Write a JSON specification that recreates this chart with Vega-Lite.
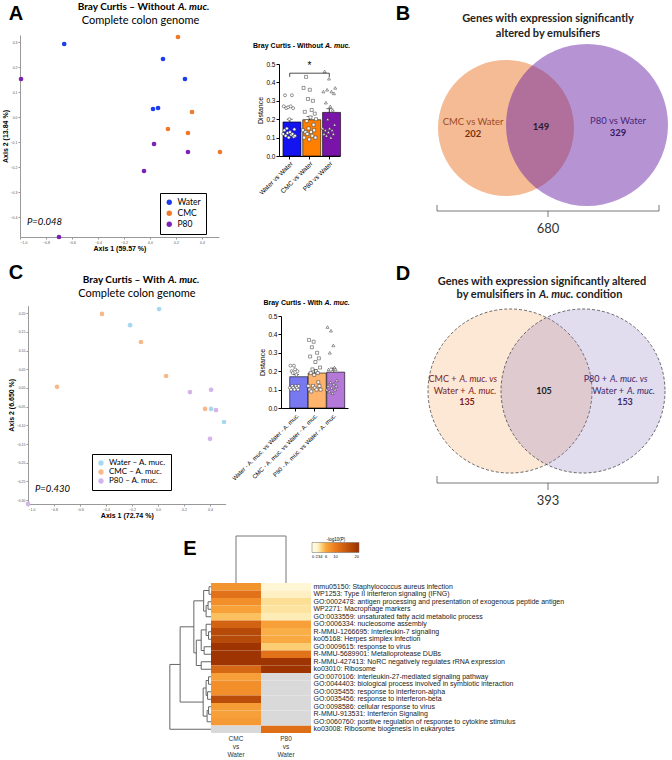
{
"$schema":"https://vega.github.io/schema/vega-lite/v6.json",
"width":672,"height":760,"autosize":{"type":"none"},"padding":0,"background":"white",
"config":{"view":{"stroke":null},"axis":{"grid":false,"labelFont":"Liberation Sans","titleFont":"Liberation Sans"},"legend":{"labelFont":"Lato"},"text":{"font":"Lato"}},
"datasets":{
"scatterA":[
{"group":"Water","axis1":-0.66,"axis2":0.292},{"group":"Water","axis1":0.1,"axis2":0.232},{"group":"Water","axis1":0.269,"axis2":0.152},{"group":"Water","axis1":0.023,"axis2":0.032},{"group":"Water","axis1":0.062,"axis2":0.036},
{"group":"CMC","axis1":0.215,"axis2":0.32},{"group":"CMC","axis1":0.323,"axis2":0.02},{"group":"CMC","axis1":0.138,"axis2":-0.048},{"group":"CMC","axis1":0.292,"axis2":-0.064},{"group":"CMC","axis1":0.538,"axis2":-0.14},
{"group":"P80","axis1":-0.992,"axis2":0.152},{"group":"P80","axis1":0.031,"axis2":-0.108},{"group":"P80","axis1":0.292,"axis2":-0.14},{"group":"P80","axis1":-0.046,"axis2":-0.216},{"group":"P80","axis1":-0.7,"axis2":-0.48}],
"scatterC":[
{"group":"Water – A. muc.","axis1":0.008,"axis2":0.211},{"group":"Water – A. muc.","axis1":-0.215,"axis2":0.168},{"group":"Water – A. muc.","axis1":0.408,"axis2":-0.056},{"group":"Water – A. muc.","axis1":0.508,"axis2":-0.091},
{"group":"CMC – A. muc.","axis1":-0.431,"axis2":0.198},{"group":"CMC – A. muc.","axis1":-0.131,"axis2":0.123},{"group":"CMC – A. muc.","axis1":0.062,"axis2":0.032},{"group":"CMC – A. muc.","axis1":-0.777,"axis2":0.003},{"group":"CMC – A. muc.","axis1":0.362,"axis2":-0.056},
{"group":"P80 – A. muc.","axis1":0.246,"axis2":-0.011},{"group":"P80 – A. muc.","axis1":0.408,"axis2":-0.005},{"group":"P80 – A. muc.","axis1":0.446,"axis2":-0.059},{"group":"P80 – A. muc.","axis1":0.4,"axis2":-0.136},{"group":"P80 – A. muc.","axis1":-1.0,"axis2":-0.31}],
"barA":[{"cmp":"Water vs Water","mean":0.185,"upper":0.2},{"cmp":"CMC vs Water","mean":0.197,"upper":0.214},{"cmp":"P80 vs Water","mean":0.237,"upper":0.257}],
"barC":[{"cmp":"Water - A. muc. vs Water - A. muc.","mean":0.17,"upper":0.182},{"cmp":"CMC - A. muc. vs Water - A. muc.","mean":0.19,"upper":0.208},{"cmp":"P80 - A. muc. vs Water - A. muc.","mean":0.195,"upper":0.217}],
"ptsA":[
{"cmp":"Water vs Water","rep":1,"d":0.12},{"cmp":"Water vs Water","rep":2,"d":0.27},{"cmp":"Water vs Water","rep":3,"d":0.14},{"cmp":"Water vs Water","rep":4,"d":0.33},{"cmp":"Water vs Water","rep":5,"d":0.11},{"cmp":"Water vs Water","rep":6,"d":0.26},{"cmp":"Water vs Water","rep":7,"d":0.15},{"cmp":"Water vs Water","rep":8,"d":0.125},{"cmp":"Water vs Water","rep":9,"d":0.265},{"cmp":"Water vs Water","rep":10,"d":0.10},{"cmp":"Water vs Water","rep":11,"d":0.2},{"cmp":"Water vs Water","rep":12,"d":0.13},{"cmp":"Water vs Water","rep":13,"d":0.27},{"cmp":"Water vs Water","rep":14,"d":0.115},{"cmp":"Water vs Water","rep":15,"d":0.33},{"cmp":"Water vs Water","rep":16,"d":0.12},{"cmp":"Water vs Water","rep":17,"d":0.26},{"cmp":"Water vs Water","rep":18,"d":0.105},{"cmp":"Water vs Water","rep":19,"d":0.145},{"cmp":"Water vs Water","rep":20,"d":0.11},
{"cmp":"CMC vs Water","rep":1,"d":0.14},{"cmp":"CMC vs Water","rep":2,"d":0.37},{"cmp":"CMC vs Water","rep":3,"d":0.10},{"cmp":"CMC vs Water","rep":4,"d":0.24},{"cmp":"CMC vs Water","rep":5,"d":0.13},{"cmp":"CMC vs Water","rep":6,"d":0.43},{"cmp":"CMC vs Water","rep":7,"d":0.19},{"cmp":"CMC vs Water","rep":8,"d":0.12},{"cmp":"CMC vs Water","rep":9,"d":0.31},{"cmp":"CMC vs Water","rep":10,"d":0.15},{"cmp":"CMC vs Water","rep":11,"d":0.09},{"cmp":"CMC vs Water","rep":12,"d":0.36},{"cmp":"CMC vs Water","rep":13,"d":0.21},{"cmp":"CMC vs Water","rep":14,"d":0.13},{"cmp":"CMC vs Water","rep":15,"d":0.25},{"cmp":"CMC vs Water","rep":16,"d":0.11},{"cmp":"CMC vs Water","rep":17,"d":0.30},{"cmp":"CMC vs Water","rep":18,"d":0.17},{"cmp":"CMC vs Water","rep":19,"d":0.14},{"cmp":"CMC vs Water","rep":20,"d":0.23},{"cmp":"CMC vs Water","rep":21,"d":0.10},{"cmp":"CMC vs Water","rep":22,"d":0.20},
{"cmp":"P80 vs Water","rep":1,"d":0.15},{"cmp":"P80 vs Water","rep":2,"d":0.35},{"cmp":"P80 vs Water","rep":3,"d":0.12},{"cmp":"P80 vs Water","rep":4,"d":0.46},{"cmp":"P80 vs Water","rep":5,"d":0.14},{"cmp":"P80 vs Water","rep":6,"d":0.29},{"cmp":"P80 vs Water","rep":7,"d":0.11},{"cmp":"P80 vs Water","rep":8,"d":0.36},{"cmp":"P80 vs Water","rep":9,"d":0.20},{"cmp":"P80 vs Water","rep":10,"d":0.13},{"cmp":"P80 vs Water","rep":11,"d":0.42},{"cmp":"P80 vs Water","rep":12,"d":0.15},{"cmp":"P80 vs Water","rep":13,"d":0.27},{"cmp":"P80 vs Water","rep":14,"d":0.10},{"cmp":"P80 vs Water","rep":15,"d":0.35},{"cmp":"P80 vs Water","rep":16,"d":0.14},{"cmp":"P80 vs Water","rep":17,"d":0.25},{"cmp":"P80 vs Water","rep":18,"d":0.12},{"cmp":"P80 vs Water","rep":19,"d":0.34},{"cmp":"P80 vs Water","rep":20,"d":0.17},{"cmp":"P80 vs Water","rep":21,"d":0.37}],
"ptsC":[
{"cmp":"Water - A. muc. vs Water - A. muc.","rep":1,"d":0.11},{"cmp":"Water - A. muc. vs Water - A. muc.","rep":2,"d":0.23},{"cmp":"Water - A. muc. vs Water - A. muc.","rep":3,"d":0.10},{"cmp":"Water - A. muc. vs Water - A. muc.","rep":4,"d":0.20},{"cmp":"Water - A. muc. vs Water - A. muc.","rep":5,"d":0.12},{"cmp":"Water - A. muc. vs Water - A. muc.","rep":6,"d":0.19},{"cmp":"Water - A. muc. vs Water - A. muc.","rep":7,"d":0.11},{"cmp":"Water - A. muc. vs Water - A. muc.","rep":8,"d":0.23},{"cmp":"Water - A. muc. vs Water - A. muc.","rep":9,"d":0.10},{"cmp":"Water - A. muc. vs Water - A. muc.","rep":10,"d":0.21},{"cmp":"Water - A. muc. vs Water - A. muc.","rep":11,"d":0.12},{"cmp":"Water - A. muc. vs Water - A. muc.","rep":12,"d":0.18},{"cmp":"Water - A. muc. vs Water - A. muc.","rep":13,"d":0.11},{"cmp":"Water - A. muc. vs Water - A. muc.","rep":14,"d":0.20},{"cmp":"Water - A. muc. vs Water - A. muc.","rep":15,"d":0.10},{"cmp":"Water - A. muc. vs Water - A. muc.","rep":16,"d":0.12},
{"cmp":"CMC - A. muc. vs Water - A. muc.","rep":1,"d":0.12},{"cmp":"CMC - A. muc. vs Water - A. muc.","rep":2,"d":0.37},{"cmp":"CMC - A. muc. vs Water - A. muc.","rep":3,"d":0.10},{"cmp":"CMC - A. muc. vs Water - A. muc.","rep":4,"d":0.28},{"cmp":"CMC - A. muc. vs Water - A. muc.","rep":5,"d":0.19},{"cmp":"CMC - A. muc. vs Water - A. muc.","rep":6,"d":0.09},{"cmp":"CMC - A. muc. vs Water - A. muc.","rep":7,"d":0.33},{"cmp":"CMC - A. muc. vs Water - A. muc.","rep":8,"d":0.21},{"cmp":"CMC - A. muc. vs Water - A. muc.","rep":9,"d":0.12},{"cmp":"CMC - A. muc. vs Water - A. muc.","rep":10,"d":0.36},{"cmp":"CMC - A. muc. vs Water - A. muc.","rep":11,"d":0.18},{"cmp":"CMC - A. muc. vs Water - A. muc.","rep":12,"d":0.11},{"cmp":"CMC - A. muc. vs Water - A. muc.","rep":13,"d":0.25},{"cmp":"CMC - A. muc. vs Water - A. muc.","rep":14,"d":0.20},{"cmp":"CMC - A. muc. vs Water - A. muc.","rep":15,"d":0.10},{"cmp":"CMC - A. muc. vs Water - A. muc.","rep":16,"d":0.30},{"cmp":"CMC - A. muc. vs Water - A. muc.","rep":17,"d":0.19},{"cmp":"CMC - A. muc. vs Water - A. muc.","rep":18,"d":0.14},{"cmp":"CMC - A. muc. vs Water - A. muc.","rep":19,"d":0.27},{"cmp":"CMC - A. muc. vs Water - A. muc.","rep":20,"d":0.12},{"cmp":"CMC - A. muc. vs Water - A. muc.","rep":21,"d":0.22},{"cmp":"CMC - A. muc. vs Water - A. muc.","rep":22,"d":0.10},
{"cmp":"P80 - A. muc. vs Water - A. muc.","rep":1,"d":0.10},{"cmp":"P80 - A. muc. vs Water - A. muc.","rep":2,"d":0.44},{"cmp":"P80 - A. muc. vs Water - A. muc.","rep":3,"d":0.12},{"cmp":"P80 - A. muc. vs Water - A. muc.","rep":4,"d":0.21},{"cmp":"P80 - A. muc. vs Water - A. muc.","rep":5,"d":0.09},{"cmp":"P80 - A. muc. vs Water - A. muc.","rep":6,"d":0.30},{"cmp":"P80 - A. muc. vs Water - A. muc.","rep":7,"d":0.14},{"cmp":"P80 - A. muc. vs Water - A. muc.","rep":8,"d":0.42},{"cmp":"P80 - A. muc. vs Water - A. muc.","rep":9,"d":0.11},{"cmp":"P80 - A. muc. vs Water - A. muc.","rep":10,"d":0.20},{"cmp":"P80 - A. muc. vs Water - A. muc.","rep":11,"d":0.08},{"cmp":"P80 - A. muc. vs Water - A. muc.","rep":12,"d":0.34},{"cmp":"P80 - A. muc. vs Water - A. muc.","rep":13,"d":0.13},{"cmp":"P80 - A. muc. vs Water - A. muc.","rep":14,"d":0.22},{"cmp":"P80 - A. muc. vs Water - A. muc.","rep":15,"d":0.10},{"cmp":"P80 - A. muc. vs Water - A. muc.","rep":16,"d":0.21},{"cmp":"P80 - A. muc. vs Water - A. muc.","rep":17,"d":0.12},{"cmp":"P80 - A. muc. vs Water - A. muc.","rep":18,"d":0.15}],
"vennB":[{"region":"CMC only","n":202},{"region":"both","n":149},{"region":"P80 only","n":329}],
"vennD":[{"region":"CMC only","n":135},{"region":"both","n":105},{"region":"P80 only","n":153}],
"heat":[
{"term":"mmu05150: Staphylococcus aureus infection","cmp":"CMC vs Water","lp":7.5},{"term":"mmu05150: Staphylococcus aureus infection","cmp":"P80 vs Water","lp":2},
{"term":"WP1253: Type II interferon signaling (IFNG)","cmp":"CMC vs Water","lp":11},{"term":"WP1253: Type II interferon signaling (IFNG)","cmp":"P80 vs Water","lp":2.5},
{"term":"GO:0002478: antigen processing and presentation of exogenous peptide antigen","cmp":"CMC vs Water","lp":8},{"term":"GO:0002478: antigen processing and presentation of exogenous peptide antigen","cmp":"P80 vs Water","lp":3.5},
{"term":"WP2271: Macrophage markers","cmp":"CMC vs Water","lp":6.3},{"term":"WP2271: Macrophage markers","cmp":"P80 vs Water","lp":3.3},
{"term":"GO:0033559: unsaturated fatty acid metabolic process","cmp":"CMC vs Water","lp":4.8},{"term":"GO:0033559: unsaturated fatty acid metabolic process","cmp":"P80 vs Water","lp":2.8},
{"term":"GO:0006334: nucleosome assembly","cmp":"CMC vs Water","lp":13},{"term":"GO:0006334: nucleosome assembly","cmp":"P80 vs Water","lp":6.5},
{"term":"R-MMU-1266695: Interleukin-7 signaling","cmp":"CMC vs Water","lp":16.5},{"term":"R-MMU-1266695: Interleukin-7 signaling","cmp":"P80 vs Water","lp":5.6},
{"term":"ko05168: Herpes simplex infection","cmp":"CMC vs Water","lp":16.5},{"term":"ko05168: Herpes simplex infection","cmp":"P80 vs Water","lp":5.8},
{"term":"GO:0009615: response to virus","cmp":"CMC vs Water","lp":19.5},{"term":"GO:0009615: response to virus","cmp":"P80 vs Water","lp":4.2},
{"term":"R-MMU-5689901: Metalloprotease DUBs","cmp":"CMC vs Water","lp":19.5},{"term":"R-MMU-5689901: Metalloprotease DUBs","cmp":"P80 vs Water","lp":11},
{"term":"R-MMU-427413: NoRC negatively regulates rRNA expression","cmp":"CMC vs Water","lp":19.5},{"term":"R-MMU-427413: NoRC negatively regulates rRNA expression","cmp":"P80 vs Water","lp":19.5},
{"term":"ko03010: Ribosome","cmp":"CMC vs Water","lp":12.5},{"term":"ko03010: Ribosome","cmp":"P80 vs Water","lp":19.5},
{"term":"GO:0070106: interleukin-27-mediated signaling pathway","cmp":"CMC vs Water","lp":6.5},{"term":"GO:0070106: interleukin-27-mediated signaling pathway","cmp":"P80 vs Water","lp":null},
{"term":"GO:0044403: biological process involved in symbiotic interaction","cmp":"CMC vs Water","lp":8},{"term":"GO:0044403: biological process involved in symbiotic interaction","cmp":"P80 vs Water","lp":null},
{"term":"GO:0035455: response to interferon-alpha","cmp":"CMC vs Water","lp":8},{"term":"GO:0035455: response to interferon-alpha","cmp":"P80 vs Water","lp":null},
{"term":"GO:0035456: response to interferon-beta","cmp":"CMC vs Water","lp":16},{"term":"GO:0035456: response to interferon-beta","cmp":"P80 vs Water","lp":null},
{"term":"GO:0098586: cellular response to virus","cmp":"CMC vs Water","lp":6.8},{"term":"GO:0098586: cellular response to virus","cmp":"P80 vs Water","lp":null},
{"term":"R-MMU-913531: Interferon Signaling","cmp":"CMC vs Water","lp":6.5},{"term":"R-MMU-913531: Interferon Signaling","cmp":"P80 vs Water","lp":null},
{"term":"GO:0060760: positive regulation of response to cytokine stimulus","cmp":"CMC vs Water","lp":7},{"term":"GO:0060760: positive regulation of response to cytokine stimulus","cmp":"P80 vs Water","lp":null},
{"term":"ko03008: Ribosome biogenesis in eukaryotes","cmp":"CMC vs Water","lp":null},{"term":"ko03008: Ribosome biogenesis in eukaryotes","cmp":"P80 vs Water","lp":11.5}],
"dendL":[
{"h1":0.4,"h2":0.4,"r1":0.5,"r2":1.5},{"h1":0,"h2":0.4,"r1":0.5,"r2":0.5},{"h1":0,"h2":0.4,"r1":1.5,"r2":1.5},
{"h1":0.6,"h2":0.6,"r1":2.5,"r2":3.5},{"h1":0,"h2":0.6,"r1":2.5,"r2":2.5},{"h1":0,"h2":0.6,"r1":3.5,"r2":3.5},
{"h1":1.0,"h2":1.0,"r1":3.0,"r2":4.5},{"h1":0.6,"h2":1.0,"r1":3.0,"r2":3.0},{"h1":0,"h2":1.0,"r1":4.5,"r2":4.5},
{"h1":1.5,"h2":1.5,"r1":1.0,"r2":3.75},{"h1":0.4,"h2":1.5,"r1":1.0,"r2":1.0},{"h1":1.0,"h2":1.5,"r1":3.75,"r2":3.75},
{"h1":0.5,"h2":0.5,"r1":6.5,"r2":7.5},{"h1":0,"h2":0.5,"r1":6.5,"r2":6.5},{"h1":0,"h2":0.5,"r1":7.5,"r2":7.5},
{"h1":1.0,"h2":1.0,"r1":5.5,"r2":7.0},{"h1":0,"h2":1.0,"r1":5.5,"r2":5.5},{"h1":0.5,"h2":1.0,"r1":7.0,"r2":7.0},
{"h1":1.4,"h2":1.4,"r1":8.5,"r2":9.5},{"h1":0,"h2":1.4,"r1":8.5,"r2":8.5},{"h1":0,"h2":1.4,"r1":9.5,"r2":9.5},
{"h1":2.0,"h2":2.0,"r1":6.25,"r2":9.0},{"h1":1.0,"h2":2.0,"r1":6.25,"r2":6.25},{"h1":1.4,"h2":2.0,"r1":9.0,"r2":9.0},
{"h1":2.0,"h2":2.0,"r1":10.5,"r2":11.5},{"h1":0,"h2":2.0,"r1":10.5,"r2":10.5},{"h1":0,"h2":2.0,"r1":11.5,"r2":11.5},
{"h1":3.0,"h2":3.0,"r1":7.625,"r2":11.0},{"h1":2.0,"h2":3.0,"r1":7.625,"r2":7.625},{"h1":2.0,"h2":3.0,"r1":11.0,"r2":11.0},
{"h1":3.5,"h2":3.5,"r1":2.375,"r2":9.3125},{"h1":1.5,"h2":3.5,"r1":2.375,"r2":2.375},{"h1":3.0,"h2":3.5,"r1":9.3125,"r2":9.3125},
{"h1":0.5,"h2":0.5,"r1":12.5,"r2":13.5},{"h1":0,"h2":0.5,"r1":12.5,"r2":12.5},{"h1":0,"h2":0.5,"r1":13.5,"r2":13.5},
{"h1":0.7,"h2":0.7,"r1":14.5,"r2":15.5},{"h1":0,"h2":0.7,"r1":14.5,"r2":14.5},{"h1":0,"h2":0.7,"r1":15.5,"r2":15.5},
{"h1":1.0,"h2":1.0,"r1":13.0,"r2":15.0},{"h1":0.5,"h2":1.0,"r1":13.0,"r2":13.0},{"h1":0.7,"h2":1.0,"r1":15.0,"r2":15.0},
{"h1":0.5,"h2":0.5,"r1":16.5,"r2":17.5},{"h1":0,"h2":0.5,"r1":16.5,"r2":16.5},{"h1":0,"h2":0.5,"r1":17.5,"r2":17.5},
{"h1":0.8,"h2":0.8,"r1":17.0,"r2":18.5},{"h1":0.5,"h2":0.8,"r1":17.0,"r2":17.0},{"h1":0,"h2":0.8,"r1":18.5,"r2":18.5},
{"h1":1.6,"h2":1.6,"r1":14.0,"r2":17.75},{"h1":1.0,"h2":1.6,"r1":14.0,"r2":14.0},{"h1":0.8,"h2":1.6,"r1":17.75,"r2":17.75},
{"h1":6.3,"h2":6.3,"r1":5.84,"r2":15.875},{"h1":3.5,"h2":6.3,"r1":5.84,"r2":5.84},{"h1":1.6,"h2":6.3,"r1":15.875,"r2":15.875},
{"h1":8.4,"h2":8.4,"r1":10.86,"r2":19.5},{"h1":6.3,"h2":8.4,"r1":10.86,"r2":10.86},{"h1":0,"h2":8.4,"r1":19.5,"r2":19.5}],
"dendT":[{"c1":0.5,"c2":0.5,"v1":0,"v2":1},{"c1":0.5,"c2":1.5,"v1":1,"v2":1},{"c1":1.5,"c2":1.5,"v1":0,"v2":1}]
},
"layer":[
{"data":{"name":"scatterA"},"layer":[
 {"mark":{"type":"point","shape":"circle","filled":true,"size":22,"opacity":1},
  "encoding":{
   "x":{"field":"axis1","type":"quantitative","scale":{"domain":[-1.0,0.53],"range":[20,218.9],"nice":false,"zero":false},
     "axis":{"orient":"bottom","offset":-523,"values":[-1.0,-0.8,-0.6,-0.4,-0.2,0,0.2,0.4],"format":".1f","labelFontSize":3.5,"labelColor":"#555","tickSize":2,"tickColor":"#999","domainColor":"#999","labelPadding":1,"title":"Axis 1 (59.57 %)","titleFontSize":7,"titleFontWeight":"bold","titlePadding":1}},
   "y":{"field":"axis2","type":"quantitative","scale":{"domain":[-0.48,0.328],"range":[237,35],"nice":false,"zero":false},
     "axis":{"orient":"left","offset":-20,"values":[0.3,0.2,0.1,0,-0.1,-0.2,-0.3,-0.4],"format":".1f","labelFontSize":3.5,"labelColor":"#555","tickSize":2,"tickColor":"#999","domainColor":"#999","labelPadding":1,"title":"Axis 2 (13.84 %)","titleFontSize":7,"titleFontWeight":"bold","titlePadding":2}},
   "color":{"field":"group","type":"nominal","scale":{"domain":["Water","CMC","P80"],"range":["#1c3cf0","#f07828","#7a22b4"]},
     "legend":{"orient":"none","legendX":160,"legendY":193,"title":null,"strokeColor":"black","fillColor":"white","padding":5,"labelFontSize":8.5,"symbolSize":28,"symbolType":"circle","rowPadding":2,"labelOffset":4}}}},
 {"data":{"values":[{}]},"mark":{"type":"text","text":"A","font":"Liberation Sans","fontSize":20,"fontWeight":"bold"},"encoding":{"x":{"datum":-1.031},"y":{"datum":0.412}}},
 {"data":{"values":[{}]},"mark":{"type":"text","text":"Bray Curtis – Without","fontSize":10,"fontWeight":"bold","align":"right","dx":-1},"encoding":{"x":{"datum":0.2},"y":{"datum":0.44}}},
 {"data":{"values":[{}]},"mark":{"type":"text","text":"A. muc.","fontSize":10,"fontWeight":"bold","fontStyle":"italic","align":"left","dx":2},"encoding":{"x":{"datum":0.2},"y":{"datum":0.44}}},
 {"data":{"values":[{}]},"mark":{"type":"text","text":"Complete colon genome","fontSize":11},"encoding":{"x":{"datum":-0.073},"y":{"datum":0.384}}},
 {"data":{"values":[{}]},"mark":{"type":"text","text":"P=0.048","fontSize":9.5,"fontStyle":"italic","align":"left"},"encoding":{"x":{"datum":-0.946},"y":{"datum":-0.42}}}
]},
{"layer":[
 {"data":{"name":"barA"},"mark":{"type":"bar","stroke":"black","strokeWidth":0.6,"opacity":1},
  "encoding":{
   "x":{"field":"cmp","type":"nominal","scale":{"domain":["Water vs Water","CMC vs Water","P80 vs Water"],"range":[279,340],"paddingInner":0.32,"paddingOuter":0.2},
     "axis":{"orient":"bottom","offset":-604,"title":null,"labelAngle":-45,"labelFontSize":6.5,"labelColor":"black","tickSize":3,"tickColor":"black","domainColor":"black","labelPadding":1}},
   "y":{"field":"mean","type":"quantitative","scale":{"domain":[0,0.5],"range":[156,64],"nice":false},
     "axis":{"orient":"left","offset":-279,"values":[0,0.1,0.2,0.3,0.4,0.5],"format":".1f","labelFontSize":6.5,"labelColor":"black","tickSize":3,"tickColor":"black","domainColor":"black","labelPadding":1,"title":"Distance","titleFontSize":7,"titleFontWeight":"normal","titleColor":"black","titlePadding":2}},
   "color":{"field":"cmp","type":"nominal","scale":{"domain":["Water vs Water","CMC vs Water","P80 vs Water"],"range":["#1414f0","#ff8000","#7a14a8"]},"legend":null}}},
 {"data":{"name":"barA"},"mark":{"type":"rule","color":"black","strokeWidth":0.8},"encoding":{"x":{"field":"cmp","type":"nominal"},"y":{"field":"mean","type":"quantitative"},"y2":{"field":"upper"}}},
 {"data":{"name":"barA"},"mark":{"type":"tick","color":"black","thickness":0.8,"size":6},"encoding":{"x":{"field":"cmp","type":"nominal"},"y":{"field":"upper","type":"quantitative"}}},
 {"data":{"name":"ptsA"},"mark":{"type":"point","filled":true,"fill":"white","stroke":"#333","strokeWidth":0.5,"size":9,"opacity":1},
  "encoding":{"x":{"field":"cmp","type":"nominal"},"xOffset":{"field":"rep","type":"nominal","scale":{"paddingOuter":0.3}},"y":{"field":"d","type":"quantitative"},
   "shape":{"field":"cmp","type":"nominal","scale":{"domain":["Water vs Water","CMC vs Water","P80 vs Water"],"range":["circle","square","triangle-up"]},"legend":null}}},
 {"data":{"values":[{}]},"mark":{"type":"rule","color":"black","strokeWidth":0.7},"encoding":{"x":{"datum":"Water vs Water","type":"nominal","bandPosition":0.5},"x2":{"datum":"P80 vs Water","bandPosition":0.5},"y":{"datum":0.45,"type":"quantitative"}}},
 {"data":{"values":[{}]},"mark":{"type":"rule","color":"black","strokeWidth":0.7},"encoding":{"x":{"datum":"Water vs Water","type":"nominal","bandPosition":0.5},"y":{"datum":0.43,"type":"quantitative"},"y2":{"datum":0.45}}},
 {"data":{"values":[{}]},"mark":{"type":"rule","color":"black","strokeWidth":0.7},"encoding":{"x":{"datum":"P80 vs Water","type":"nominal","bandPosition":0.5},"y":{"datum":0.43,"type":"quantitative"},"y2":{"datum":0.45}}},
 {"data":{"values":[{}]},"mark":{"type":"text","text":"*","font":"Liberation Sans","fontSize":10},"encoding":{"x":{"datum":"CMC vs Water","type":"nominal"},"y":{"datum":0.49,"type":"quantitative"}}},
 {"data":{"values":[{}]},"mark":{"type":"text","text":"Bray Curtis - Without","font":"Liberation Sans","fontSize":7,"fontWeight":"bold","align":"right","dx":13.5},"encoding":{"x":{"datum":"CMC vs Water","type":"nominal"},"y":{"datum":0.598,"type":"quantitative"}}},
 {"data":{"values":[{}]},"mark":{"type":"text","text":"A. muc.","font":"Liberation Sans","fontSize":7,"fontWeight":"bold","fontStyle":"italic","align":"left","dx":15.5},"encoding":{"x":{"datum":"CMC vs Water","type":"nominal"},"y":{"datum":0.598,"type":"quantitative"}}}
]},
{"layer":[
 {"data":{"values":[{}]},"mark":{"type":"point","shape":"circle","filled":true,"size":18496,"fill":"#f4bb94","opacity":1,"strokeWidth":0},"encoding":{"x":{"datum":11.6,"scale":{"domain":[0,28],"range":[390,670],"nice":false,"zero":false},"axis":null},"y":{"datum":13.2,"scale":{"domain":[0,26],"range":[260,0],"nice":false,"zero":false},"axis":null}}},
 {"data":{"values":[{}]},"mark":{"type":"point","shape":"circle","filled":true,"size":26244,"fill":"#641ca4","fillOpacity":0.47,"opacity":1,"strokeWidth":0},"encoding":{"x":{"datum":19.7,"axis":null},"y":{"datum":13.5,"axis":null}}},
 {"data":{"values":[{}]},"mark":{"type":"text","text":"B","font":"Liberation Sans","fontSize":20,"fontWeight":"bold"},"encoding":{"x":{"datum":1.3,"axis":null},"y":{"datum":24.6,"axis":null}}},
 {"data":{"values":[{}]},"mark":{"type":"text","text":"Genes with expression significantly","fontSize":11,"fontWeight":"bold","color":"#222"},"encoding":{"x":{"datum":15.8,"axis":null},"y":{"datum":24.1,"axis":null}}},
 {"data":{"values":[{}]},"mark":{"type":"text","text":"altered by emulsifiers","fontSize":11,"fontWeight":"bold","color":"#222"},"encoding":{"x":{"datum":15.8,"axis":null},"y":{"datum":22.6,"axis":null}}},
 {"data":{"values":[{}]},"mark":{"type":"text","text":"CMC vs Water","fontSize":9.5,"color":"#9c4a26"},"encoding":{"x":{"datum":8.3,"axis":null},"y":{"datum":13.8,"axis":null}}},
 {"data":{"values":[{}]},"mark":{"type":"text","text":"P80 vs Water","fontSize":9.5,"color":"#4a2472"},"encoding":{"x":{"datum":22.8,"axis":null},"y":{"datum":13.9,"axis":null}}},
 {"data":{"name":"vennB"},"transform":[{"filter":"datum.region=='CMC only'"}],"mark":{"type":"text","fontSize":9.5,"fontWeight":"bold","color":"#7a2e0e"},"encoding":{"text":{"field":"n","type":"quantitative"},"x":{"datum":8.3,"axis":null},"y":{"datum":12.6,"axis":null}}},
 {"data":{"name":"vennB"},"transform":[{"filter":"datum.region=='both'"}],"mark":{"type":"text","fontSize":9.5,"fontWeight":"bold","color":"#2b1b2b"},"encoding":{"text":{"field":"n","type":"quantitative"},"x":{"datum":15.1,"axis":null},"y":{"datum":13.3,"axis":null}}},
 {"data":{"name":"vennB"},"transform":[{"filter":"datum.region=='P80 only'"}],"mark":{"type":"text","fontSize":9.5,"fontWeight":"bold","color":"#3a1660"},"encoding":{"text":{"field":"n","type":"quantitative"},"x":{"datum":22.8,"axis":null},"y":{"datum":12.7,"axis":null}}},
 {"data":{"values":[{}]},"mark":{"type":"rule","color":"#555","strokeWidth":0.8},"encoding":{"x":{"datum":4.7,"axis":null},"x2":{"datum":26.9},"y":{"datum":4.9,"axis":null}}},
 {"data":{"values":[{}]},"mark":{"type":"rule","color":"#555","strokeWidth":0.8},"encoding":{"x":{"datum":4.7,"axis":null},"y":{"datum":4.9,"axis":null},"y2":{"datum":5.5}}},
 {"data":{"values":[{}]},"mark":{"type":"rule","color":"#555","strokeWidth":0.8},"encoding":{"x":{"datum":26.9,"axis":null},"y":{"datum":4.9,"axis":null},"y2":{"datum":5.5}}},
 {"data":{"values":[{}]},"mark":{"type":"rule","color":"#555","strokeWidth":0.8},"encoding":{"x":{"datum":15.8,"axis":null},"y":{"datum":4.3,"axis":null},"y2":{"datum":4.9}}},
 {"data":{"name":"vennB"},"transform":[{"aggregate":[{"op":"sum","field":"n","as":"total"}]}],"mark":{"type":"text","fontSize":13,"color":"#333"},"encoding":{"text":{"field":"total","type":"quantitative"},"x":{"datum":15.8,"axis":null},"y":{"datum":3.1,"axis":null}}}
]},
{"data":{"name":"scatterC"},"layer":[
 {"mark":{"type":"point","shape":"circle","filled":true,"size":22,"opacity":1},
  "encoding":{
   "x":{"field":"axis1","type":"quantitative","scale":{"domain":[-1.0,0.52],"range":[28,225.6],"nice":false,"zero":false},
     "axis":{"orient":"bottom","offset":-256,"values":[-1.0,-0.8,-0.6,-0.4,-0.2,0,0.2,0.4],"format":".1f","labelFontSize":3.5,"labelColor":"#555","tickSize":2,"tickColor":"#999","domainColor":"#999","labelPadding":1,"title":"Axis 1 (72.74 %)","titleFontSize":7,"titleFontWeight":"bold","titlePadding":1}},
   "y":{"field":"axis2","type":"quantitative","scale":{"domain":[-0.31,0.22],"range":[503.9,305.7],"nice":false,"zero":false},
     "axis":{"orient":"left","offset":-28,"values":[0.2,0.15,0.1,0.05,0,-0.05,-0.1,-0.15,-0.2,-0.25,-0.3],"format":".2f","labelFontSize":3.5,"labelColor":"#555","tickSize":2,"tickColor":"#999","domainColor":"#999","labelPadding":1,"title":"Axis 2 (6.650 %)","titleFontSize":7,"titleFontWeight":"bold","titlePadding":2}},
   "color":{"field":"group","type":"nominal","scale":{"domain":["Water – A. muc.","CMC – A. muc.","P80 – A. muc."],"range":["#a8d8f0","#f7b98a","#d4b4ec"]},
     "legend":{"orient":"none","legendX":92,"legendY":454,"title":null,"strokeColor":"black","fillColor":"white","padding":5,"labelFontSize":8,"symbolSize":28,"symbolType":"circle","rowPadding":1,"labelOffset":4}}}},
 {"data":{"values":[{}]},"mark":{"type":"text","text":"C","font":"Liberation Sans","fontSize":20,"fontWeight":"bold"},"encoding":{"x":{"datum":-1.092},"y":{"datum":0.307}}},
 {"data":{"values":[{}]},"mark":{"type":"text","text":"Bray Curtis – With","fontSize":10,"fontWeight":"bold","align":"right","dx":-1},"encoding":{"x":{"datum":0.062},"y":{"datum":0.289}}},
 {"data":{"values":[{}]},"mark":{"type":"text","text":"A. muc.","fontSize":10,"fontWeight":"bold","fontStyle":"italic","align":"left","dx":2},"encoding":{"x":{"datum":0.062},"y":{"datum":0.289}}},
 {"data":{"values":[{}]},"mark":{"type":"text","text":"Complete colon genome","fontSize":11},"encoding":{"x":{"datum":-0.162},"y":{"datum":0.251}}},
 {"data":{"values":[{}]},"mark":{"type":"text","text":"P=0.430","fontSize":9.5,"fontStyle":"italic","align":"left"},"encoding":{"x":{"datum":-0.946},"y":{"datum":-0.27}}}
]},
{"layer":[
 {"data":{"name":"barC"},"mark":{"type":"bar","stroke":"black","strokeWidth":0.6,"opacity":1},
  "encoding":{
   "x":{"field":"cmp","type":"nominal","scale":{"domain":["Water - A. muc. vs Water - A. muc.","CMC - A. muc. vs Water - A. muc.","P80 - A. muc. vs Water - A. muc."],"range":[281,348],"paddingInner":0.32,"paddingOuter":0.47},
     "axis":{"orient":"bottom","offset":-352,"title":null,"labelAngle":-45,"labelFontSize":6,"labelColor":"black","tickSize":3,"tickColor":"black","domainColor":"black","labelPadding":1}},
   "y":{"field":"mean","type":"quantitative","scale":{"domain":[0,0.5],"range":[408,316],"nice":false},
     "axis":{"orient":"left","offset":-281,"values":[0,0.1,0.2,0.3,0.4,0.5],"format":".1f","labelFontSize":6.5,"labelColor":"black","tickSize":3,"tickColor":"black","domainColor":"black","labelPadding":1,"title":"Distance","titleFontSize":7,"titleFontWeight":"normal","titleColor":"black","titlePadding":2}},
   "color":{"field":"cmp","type":"nominal","scale":{"domain":["Water - A. muc. vs Water - A. muc.","CMC - A. muc. vs Water - A. muc.","P80 - A. muc. vs Water - A. muc."],"range":["#7878f0","#ffb46e","#b478d8"]},"legend":null}}},
 {"data":{"name":"barC"},"mark":{"type":"rule","color":"black","strokeWidth":0.8},"encoding":{"x":{"field":"cmp","type":"nominal"},"y":{"field":"mean","type":"quantitative"},"y2":{"field":"upper"}}},
 {"data":{"name":"barC"},"mark":{"type":"tick","color":"black","thickness":0.8,"size":6},"encoding":{"x":{"field":"cmp","type":"nominal"},"y":{"field":"upper","type":"quantitative"}}},
 {"data":{"name":"ptsC"},"mark":{"type":"point","filled":true,"fill":"white","stroke":"#333","strokeWidth":0.5,"size":9,"opacity":1},
  "encoding":{"x":{"field":"cmp","type":"nominal"},"xOffset":{"field":"rep","type":"nominal","scale":{"paddingOuter":0.3}},"y":{"field":"d","type":"quantitative"},
   "shape":{"field":"cmp","type":"nominal","scale":{"domain":["Water - A. muc. vs Water - A. muc.","CMC - A. muc. vs Water - A. muc.","P80 - A. muc. vs Water - A. muc."],"range":["circle","square","triangle-up"]},"legend":null}}},
 {"data":{"values":[{}]},"mark":{"type":"text","text":"Bray Curtis - With","font":"Liberation Sans","fontSize":7,"fontWeight":"bold","align":"right","dx":8},"encoding":{"x":{"datum":"CMC - A. muc. vs Water - A. muc.","type":"nominal"},"y":{"datum":0.571,"type":"quantitative"}}},
 {"data":{"values":[{}]},"mark":{"type":"text","text":"A. muc.","font":"Liberation Sans","fontSize":7,"fontWeight":"bold","fontStyle":"italic","align":"left","dx":10},"encoding":{"x":{"datum":"CMC - A. muc. vs Water - A. muc.","type":"nominal"},"y":{"datum":0.571,"type":"quantitative"}}}
]},
{"layer":[
 {"data":{"values":[{}]},"mark":{"type":"point","shape":"circle","filled":true,"size":26896,"fill":"#fde8d6","opacity":1,"stroke":"#444","strokeWidth":0.8,"strokeDash":[3,2]},"encoding":{"x":{"datum":14.0,"scale":{"domain":[0,30],"range":[370,670],"nice":false,"zero":false},"axis":null},"y":{"datum":13.9,"scale":{"domain":[0,26],"range":[530,270],"nice":false,"zero":false},"axis":null}}},
 {"data":{"values":[{}]},"mark":{"type":"point","shape":"circle","filled":true,"size":26896,"fill":"#8874bc","fillOpacity":0.25,"opacity":1,"stroke":"#444","strokeOpacity":1,"strokeWidth":0.8,"strokeDash":[3,2]},"encoding":{"x":{"datum":21.3,"axis":null},"y":{"datum":13.9,"axis":null}}},
 {"data":{"values":[{}]},"mark":{"type":"text","text":"D","font":"Liberation Sans","fontSize":20,"fontWeight":"bold"},"encoding":{"x":{"datum":3.3,"axis":null},"y":{"datum":25.6,"axis":null}}},
 {"data":{"values":[{}]},"mark":{"type":"text","text":"Genes with expression significantly altered","fontSize":11,"fontWeight":"bold","color":"#222"},"encoding":{"x":{"datum":17.2,"axis":null},"y":{"datum":24.8,"axis":null}}},
 {"data":{"values":[{}]},"mark":{"type":"text","text":"by emulsifiers in","fontSize":11,"fontWeight":"bold","color":"#222","align":"right"},"encoding":{"x":{"datum":16.56,"axis":null},"y":{"datum":23.5,"axis":null}}},
 {"data":{"values":[{}]},"mark":{"type":"text","text":"A. muc.","fontSize":11,"fontWeight":"bold","fontStyle":"italic","color":"#222","align":"left"},"encoding":{"x":{"datum":16.9,"axis":null},"y":{"datum":23.5,"axis":null}}},
 {"data":{"values":[{}]},"mark":{"type":"text","text":"condition","fontSize":11,"fontWeight":"bold","color":"#222","align":"left"},"encoding":{"x":{"datum":20.6,"axis":null},"y":{"datum":23.5,"axis":null}}},
 {"data":{"values":[{}]},"mark":{"type":"text","text":"CMC +","fontSize":9,"color":"#7b2323","align":"right","dx":-1},"encoding":{"x":{"datum":8.75,"axis":null},"y":{"datum":15.1,"axis":null}}},
 {"data":{"values":[{}]},"mark":{"type":"text","text":"A. muc. vs","fontSize":9,"fontStyle":"italic","color":"#7b2323","align":"left","dx":2},"encoding":{"x":{"datum":8.75,"axis":null},"y":{"datum":15.1,"axis":null}}},
 {"data":{"values":[{}]},"mark":{"type":"text","text":"Water +","fontSize":9,"color":"#7b2323","align":"right","dx":-1},"encoding":{"x":{"datum":9.65,"axis":null},"y":{"datum":13.9,"axis":null}}},
 {"data":{"values":[{}]},"mark":{"type":"text","text":"A. muc.","fontSize":9,"fontStyle":"italic","color":"#7b2323","align":"left","dx":2},"encoding":{"x":{"datum":9.65,"axis":null},"y":{"datum":13.9,"axis":null}}},
 {"data":{"values":[{}]},"mark":{"type":"text","text":"P80 +","fontSize":9,"color":"#3d2b6b","align":"right","dx":-1},"encoding":{"x":{"datum":23.8,"axis":null},"y":{"datum":15.1,"axis":null}}},
 {"data":{"values":[{}]},"mark":{"type":"text","text":"A. muc. vs","fontSize":9,"fontStyle":"italic","color":"#3d2b6b","align":"left","dx":2},"encoding":{"x":{"datum":23.8,"axis":null},"y":{"datum":15.1,"axis":null}}},
 {"data":{"values":[{}]},"mark":{"type":"text","text":"Water +","fontSize":9,"color":"#3d2b6b","align":"right","dx":-1},"encoding":{"x":{"datum":25.5,"axis":null},"y":{"datum":13.9,"axis":null}}},
 {"data":{"values":[{}]},"mark":{"type":"text","text":"A. muc.","fontSize":9,"fontStyle":"italic","color":"#3d2b6b","align":"left","dx":2},"encoding":{"x":{"datum":25.5,"axis":null},"y":{"datum":13.9,"axis":null}}},
 {"data":{"name":"vennD"},"transform":[{"filter":"datum.region=='CMC only'"}],"mark":{"type":"text","fontSize":9,"fontWeight":"bold","color":"#7b2323"},"encoding":{"text":{"field":"n","type":"quantitative"},"x":{"datum":9.7,"axis":null},"y":{"datum":12.8,"axis":null}}},
 {"data":{"name":"vennD"},"transform":[{"filter":"datum.region=='both'"}],"mark":{"type":"text","fontSize":9,"fontWeight":"bold","color":"#222"},"encoding":{"text":{"field":"n","type":"quantitative"},"x":{"datum":17.4,"axis":null},"y":{"datum":13.9,"axis":null}}},
 {"data":{"name":"vennD"},"transform":[{"filter":"datum.region=='P80 only'"}],"mark":{"type":"text","fontSize":9,"fontWeight":"bold","color":"#3d2b6b"},"encoding":{"text":{"field":"n","type":"quantitative"},"x":{"datum":25.5,"axis":null},"y":{"datum":12.8,"axis":null}}},
 {"data":{"values":[{}]},"mark":{"type":"rule","color":"#555","strokeWidth":0.8},"encoding":{"x":{"datum":6.7,"axis":null},"x2":{"datum":28.8},"y":{"datum":4.7,"axis":null}}},
 {"data":{"values":[{}]},"mark":{"type":"rule","color":"#555","strokeWidth":0.8},"encoding":{"x":{"datum":6.7,"axis":null},"y":{"datum":4.7,"axis":null},"y2":{"datum":5.4}}},
 {"data":{"values":[{}]},"mark":{"type":"rule","color":"#555","strokeWidth":0.8},"encoding":{"x":{"datum":28.8,"axis":null},"y":{"datum":4.7,"axis":null},"y2":{"datum":5.4}}},
 {"data":{"values":[{}]},"mark":{"type":"rule","color":"#555","strokeWidth":0.8},"encoding":{"x":{"datum":17.8,"axis":null},"y":{"datum":4.0,"axis":null},"y2":{"datum":4.7}}},
 {"data":{"name":"vennD"},"transform":[{"aggregate":[{"op":"sum","field":"n","as":"total"}]}],"mark":{"type":"text","fontSize":13,"color":"#333"},"encoding":{"text":{"field":"total","type":"quantitative"},"x":{"datum":17.8,"axis":null},"y":{"datum":2.9,"axis":null}}}
]},
{"data":{"name":"heat"},"layer":[
 {"transform":[{"filter":"isValid(datum.lp)"}],"mark":{"type":"rect"},
  "encoding":{
   "x":{"field":"cmp","type":"nominal","scale":{"domain":["CMC vs Water","P80 vs Water"],"range":[211,311],"paddingInner":0,"paddingOuter":0},
     "axis":{"orient":"bottom","offset":-27,"title":null,"labelExpr":"split(datum.label, ' ')","labelFontSize":6.5,"labelLineHeight":8,"labelAngle":0,"ticks":false,"domain":false,"labelPadding":2,"labelColor":"#333"}},
   "y":{"field":"term","type":"nominal","scale":{"domain":["mmu05150: Staphylococcus aureus infection","WP1253: Type II interferon signaling (IFNG)","GO:0002478: antigen processing and presentation of exogenous peptide antigen","WP2271: Macrophage markers","GO:0033559: unsaturated fatty acid metabolic process","GO:0006334: nucleosome assembly","R-MMU-1266695: Interleukin-7 signaling","ko05168: Herpes simplex infection","GO:0009615: response to virus","R-MMU-5689901: Metalloprotease DUBs","R-MMU-427413: NoRC negatively regulates rRNA expression","ko03010: Ribosome","GO:0070106: interleukin-27-mediated signaling pathway","GO:0044403: biological process involved in symbiotic interaction","GO:0035455: response to interferon-alpha","GO:0035456: response to interferon-beta","GO:0098586: cellular response to virus","R-MMU-913531: Interferon Signaling","GO:0060760: positive regulation of response to cytokine stimulus","ko03008: Ribosome biogenesis in eukaryotes"],"range":[583,733],"paddingInner":0,"paddingOuter":0},
     "axis":{"orient":"right","offset":-361,"title":null,"labelFontSize":7,"labelLimit":400,"ticks":false,"domain":false,"labelPadding":2,"labelColor":"#222"}},
   "color":{"field":"lp","type":"quantitative","scale":{"type":"linear","domain":[0,2,3,4,6,10,20],"range":["#ffffff","#fff6d5","#feeab0","#fdd27a","#f9a43c","#ea7a1c","#9a3000"]},
     "legend":{"orient":"none","legendX":312,"legendY":537,"direction":"horizontal","gradientLength":47,"gradientThickness":10,"title":"-log10(P)","titleFont":"Liberation Sans","titleFontSize":4.5,"titleFontWeight":"normal","titleAnchor":"middle","titlePadding":1,"labelFont":"Liberation Sans","labelFontSize":4,"values":[0,2,3,4,6,10,20],"labelOverlap":false,"padding":0,"gradientStrokeColor":"#666","gradientStrokeWidth":0.5,"labelOffset":2}}}},
 {"transform":[{"filter":"!isValid(datum.lp)"}],"mark":{"type":"rect","color":"#d9d9d9"},
  "encoding":{"x":{"field":"cmp","type":"nominal"},"y":{"field":"term","type":"nominal"}}}
]},
{"data":{"name":"dendL"},"mark":{"type":"rule","color":"#666","strokeWidth":1},
 "encoding":{"x":{"field":"h1","type":"quantitative","scale":{"domain":[0,10],"range":[211,162],"nice":false,"zero":false},"axis":null},"x2":{"field":"h2"},
  "y":{"field":"r1","type":"quantitative","scale":{"domain":[0,20],"range":[583,733],"nice":false,"zero":false},"axis":null},"y2":{"field":"r2"}}},
{"layer":[
 {"data":{"name":"dendT"},"mark":{"type":"rule","color":"#777","strokeWidth":1},
  "encoding":{"x":{"field":"c1","type":"quantitative","scale":{"domain":[0,2],"range":[211,311],"nice":false,"zero":false},"axis":null},"x2":{"field":"c2"},
   "y":{"field":"v1","type":"quantitative","scale":{"domain":[0,1],"range":[583,536],"nice":false,"zero":false},"axis":null},"y2":{"field":"v2"}}},
 {"data":{"values":[{}]},"mark":{"type":"text","text":"E","font":"Liberation Sans","fontSize":20,"fontWeight":"bold"},"encoding":{"x":{"datum":-0.42,"axis":null},"y":{"datum":0.717,"axis":null}}}
]}
],
"resolve":{"scale":{"x":"independent","y":"independent","color":"independent","shape":"independent","xOffset":"independent"},"axis":{"x":"independent","y":"independent"},"legend":{"color":"independent"}}
}
